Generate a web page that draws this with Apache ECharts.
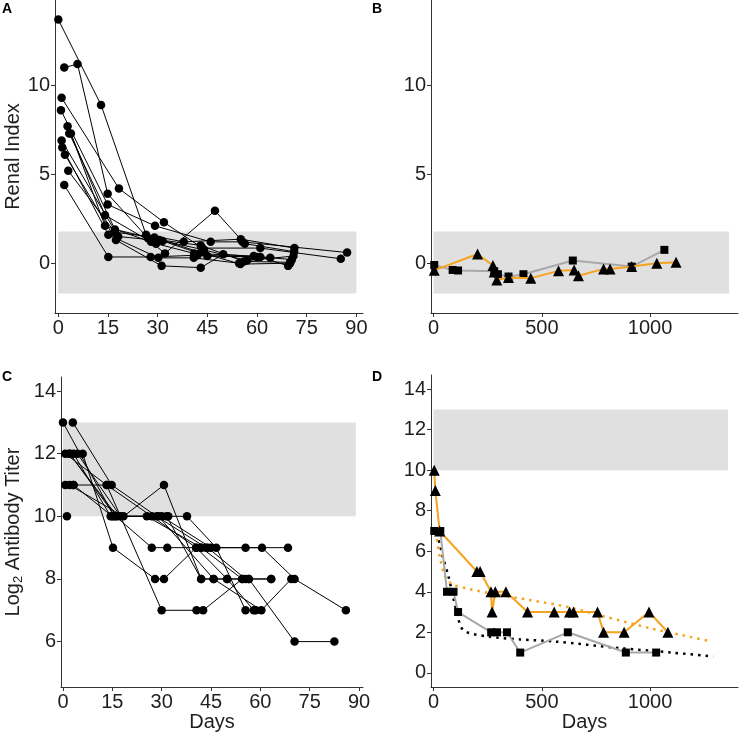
<!DOCTYPE html>
<html><head><meta charset="utf-8">
<script src="https://cdn.jsdelivr.net/npm/echarts@6/dist/echarts.min.js"></script>
<style>html,body{margin:0;padding:0;background:#fff}#c{width:739px;height:739px}</style>
</head><body><div id="c"></div>
<script>
// ---------- tick labels ----------
const ticksDaysShort = [0, 15, 30, 45, 60, 75, 90];
const ticksDaysLong = [0, 500, 1000];
const ticksRenal = [0, 5, 10];
const ticksTiterC = [6, 8, 10, 12, 14];
const ticksTiterD = [0, 2, 4, 6, 8, 10, 12, 14];

// ---------- reference bands ----------
const renalBandY = [-1.7, 1.78];
const renalBandXA = [0, 90];
const renalBandXB = [0, 1365];
const titerBandY = [10, 13];
const titerBandXC = [0, 89];
const titerBandXD = [0, 1360];

// ---------- Panel A: renal index, individual subjects [day, value] ----------
const a01 = [[0,13.7],[12.9,8.9],[26.5,1.6],[37.9,1.2],[55.1,1.35],[71.3,0.85]];
const a02 = [[1.8,11.0],[5.8,11.2],[14.9,3.9],[27.1,1.4],[43,1.0],[56,0.1],[70,0.05]];
const a03 = [[1,9.3],[18.3,4.2],[31.9,2.3],[43.5,0.85],[61,0.85],[85.3,0.25]];
const a04 = [[0.8,8.6],[14.9,3.3],[29.2,2.1],[46,1.2],[55.6,1.2],[87.2,0.6]];
const a05 = [[2.8,7.7],[14.1,2.7],[28,1.2],[32.2,0.55],[47.3,2.95],[56.3,1.1],[71.2,0.65]];
const a06 = [[3.3,7.3],[17.1,1.9],[30.5,1.3],[44,0.75],[57,0.15],[71,0.4]];
const a07 = [[3.8,7.3],[14.1,2.1],[29.5,1.1],[41,0.55],[59,0.4],[70.5,0.2]];
const a08 = [[1,6.9],[18.1,1.5],[31.5,1.25],[45,0.4],[61,0.35],[69.4,-0.15]];
const a09 = [[1.2,6.5],[15.1,1.6],[30.2,0.3],[40.9,0.3],[54.6,0]];
const a10 = [[2,6.1],[17.4,1.3],[31.2,-0.15],[43,-0.25],[49.8,0.5],[64,0.3]];
const a11 = [[3,5.2],[17,1.75],[29,1.45],[43,0.6],[55,-0.05],[70,0.0]];
const a12 = [[1.8,4.4],[15.1,0.35],[27.9,0.35],[42,0.45],[60,0.35]];
const renalSubjects = [a01,a02,a03,a04,a05,a06,a07,a08,a09,a10,a11,a12];

// ---------- Panel B: renal index, two long-term patients ----------
const bSquares = [[3,-0.1],[88,-0.38],[113,-0.41],[280,-0.45],[297,-0.62],[346,-0.75],[415,-0.62],[643,0.15],[915,-0.19],[1066,0.75]];
const bTriangles = [[3,-0.4],[203,0.52],[274,-0.13],[280,-0.5],[292,-0.94],[346,-0.8],[449,-0.84],[577,-0.43],[649,-0.38],[669,-0.71],[785,-0.32],[815,-0.32],[915,-0.19],[1031,0],[1120,0.05]];

// ---------- Panel C: log2 antibody titer, individual subjects ----------
const c01 = [[0,13],[15.5,10],[30,10],[45,9],[60.5,9],[70.4,8],[86,7]];
const c02 = [[3,13],[14.8,11],[28.5,10],[43.5,9],[55.5,9],[68.4,9]];
const c03 = [[0.7,12],[13.3,11],[27,10],[40.5,9],[49.9,8],[56.5,8],[70.4,6],[82.5,6]];
const c04 = [[2,12],[16.5,10],[32,10],[37.7,10],[46.6,9],[55.5,7],[58.6,7]];
const c05 = [[3.2,12],[14.5,10],[25.5,10],[42,9],[54.5,8],[63.3,8]];
const c06 = [[4.4,12],[17.5,10],[31.5,10],[42,8],[45.8,8],[60.3,7],[69.4,8]];
const c07 = [[6,12],[15.2,9],[28,8],[30.7,8],[40.5,9],[42,9]];
const c08 = [[0.7,11],[3.2,11],[13.3,11],[30,7],[40.6,7],[42.6,7],[54.5,8]];
const c09 = [[2,11],[18.4,10],[30.7,11],[42,8],[56.5,8],[63.3,8]];
const c10 = [[1.2,10]];
const c11 = [[2,12],[16,10],[27,9],[31.7,9],[44,9],[55.5,8]];
const c12 = [[3.2,11],[15,10],[29,10],[45.8,8],[49.9,8],[58,7]];
const titerSubjects = [c01,c02,c03,c04,c05,c06,c07,c08,c09,c10,c11,c12];

// ---------- Panel D: log2 antibody titer, two long-term patients ----------
const dSquares = [[3,7],[31,7],[62,4],[92,4],[113,3],[266,2],[293,2],[339,2],[400,1],[620,2],[888,1],[1028,1]];
const dTriangles = [[3,10],[8,9],[28,7],[200,5],[215,5],[265,4],[270,3],[285,4],[334,4],[434,3],[557,3],[628,3],[646,3],[757,3],[785,2],[880,2],[995,3],[1082,2]];
const dFitOrange = [[15,6.6],[31,5.6],[54,4.75],[85,4.38],[160,4.15],[300,3.85],[440,3.6],[620,3.25],[800,2.75],[1000,2.2],[1150,1.85],[1285,1.55]];
const dFitBlack = [[15,6.9],[46,5.6],[69,4.75],[108,2.95],[138,2.1],[246,1.8],[400,1.65],[554,1.55],[862,1.22],[1100,1.0],[1292,0.8]];

// ---------- styling ----------
const FONT = '"Liberation Sans", Arial, sans-serif';
const AXC = '#333';
const TXT = '#1f1f1f';
const ORANGE = '#F5A31F';
const GREY = '#A8A8A8';
const BAND = '#E0E0E0';

function xAx(gi, min, max, ticks, name) {
  return {
    type: 'value', gridIndex: gi, min: min, max: max,
    axisLine: { show: true, onZero: false, lineStyle: { color: AXC, width: 1 } },
    axisTick: { show: true, length: 4, customValues: ticks, lineStyle: { color: AXC } },
    axisLabel: { customValues: ticks, fontSize: 20, color: TXT, margin: 5, fontFamily: FONT, formatter: v => String(v) },
    splitLine: { show: false },
    name: name || '', nameLocation: 'middle', nameGap: 22,
    nameTextStyle: { fontSize: 20, color: TXT, fontFamily: FONT }
  };
}
function yAx(gi, min, max, ticks, name, gap, rich) {
  const o = {
    type: 'value', gridIndex: gi, min: min, max: max,
    axisLine: { show: true, onZero: false, lineStyle: { color: AXC, width: 1 } },
    axisTick: { show: true, length: 4, customValues: ticks, lineStyle: { color: AXC } },
    axisLabel: { customValues: ticks, fontSize: 20, color: TXT, margin: 5, fontFamily: FONT, formatter: v => String(v) },
    splitLine: { show: false },
    name: name || '', nameLocation: 'middle', nameGap: gap || 30,
    nameTextStyle: { fontSize: 20, color: TXT, fontFamily: FONT }
  };
  if (rich) o.nameTextStyle.rich = rich;
  return o;
}
function bandSeries(xi, bx, by) {
  return {
    type: 'line', xAxisIndex: xi, yAxisIndex: xi, z: 1, silent: true,
    data: [[bx[0], by[0]], [bx[1], by[1]]], showSymbol: false, symbol: 'none',
    lineStyle: { opacity: 0, width: 0 }, animation: false,
    markArea: { silent: true, itemStyle: { color: BAND }, data: [[{ coord: [bx[0], by[0]] }, { coord: [bx[1], by[1]] }]] }
  };
}
function subjSeries(xi, d) {
  return {
    type: 'line', xAxisIndex: xi, yAxisIndex: xi, z: 3, data: d,
    symbol: 'circle', symbolSize: 8.5, showAllSymbol: true,
    itemStyle: { color: '#000' }, lineStyle: { color: '#000', width: 1 },
    animation: false, clip: false
  };
}
function patSeries(xi, d, sym, size, lineColor, z) {
  return {
    type: 'line', xAxisIndex: xi, yAxisIndex: xi, z: z, data: d,
    symbol: sym, symbolSize: size, showAllSymbol: true,
    itemStyle: { color: '#000' }, lineStyle: { color: lineColor, width: 2 },
    animation: false, clip: false
  };
}
function fitSeries(xi, d, color) {
  return {
    type: 'line', xAxisIndex: xi, yAxisIndex: xi, z: 2, data: d, smooth: 0.3,
    symbol: 'none', showSymbol: false,
    lineStyle: { color: color, width: 2.5, type: [2.5, 5] },
    animation: false
  };
}

const series = [];
series.push(bandSeries(0, renalBandXA, renalBandY));
renalSubjects.forEach(d => series.push(subjSeries(0, d)));
series.push(bandSeries(1, renalBandXB, renalBandY));
series.push(patSeries(1, bSquares, 'rect', 8, GREY, 3));
series.push(patSeries(1, bTriangles, 'triangle', 11, ORANGE, 4));
series.push(bandSeries(2, titerBandXC, titerBandY));
titerSubjects.forEach(d => series.push(subjSeries(2, d)));
series.push(bandSeries(3, titerBandXD, titerBandY));
series.push(fitSeries(3, dFitBlack, '#000'));
series.push(fitSeries(3, dFitOrange, ORANGE));
series.push(patSeries(3, dSquares, 'rect', 8, GREY, 3));
series.push(patSeries(3, dTriangles, 'triangle', 11, ORANGE, 4));

const letterStyle = { fontSize: 14, fontWeight: 'bold', color: '#000', fontFamily: FONT };
const chart = echarts.init(document.getElementById('c'), null, { renderer: 'canvas' });
chart.setOption({
  backgroundColor: '#fff',
  animation: false,
  title: [
    { text: 'A', left: 2, top: 2, textStyle: letterStyle, padding: 0 },
    { text: 'B', left: 372, top: 2, textStyle: letterStyle, padding: 0 },
    { text: 'C', left: 2, top: 370, textStyle: letterStyle, padding: 0 },
    { text: 'D', left: 372, top: 370, textStyle: letterStyle, padding: 0 }
  ],
  grid: [
    { left: 55, top: 0, width: 308, height: 313 },
    { left: 431, top: 0, width: 307, height: 313 },
    { left: 61, top: 377, width: 302, height: 310 },
    { left: 431, top: 375, width: 307, height: 312 }
  ],
  xAxis: [
    xAx(0, -1, 92, ticksDaysShort),
    xAx(1, -12, 1406, ticksDaysLong),
    xAx(2, -0.6, 91.2, ticksDaysShort, 'Days'),
    xAx(3, -12, 1406, ticksDaysLong, 'Days')
  ],
  yAxis: [
    yAx(0, -2.8, 14.8, ticksRenal, 'Renal Index', 32),
    yAx(1, -2.8, 14.8, ticksRenal),
    yAx(2, 4.55, 14.45, ticksTiterC, '{a|Log}{s|2}{a| Antibody Titer}', 36,
        { a: { fontSize: 20, color: TXT, fontFamily: FONT }, s: { fontSize: 13, color: TXT, fontFamily: FONT, padding: [10, 0, 0, 0] } }),
    yAx(3, -0.7, 14.7, ticksTiterD)
  ],
  series: series
});
</script></body></html>
